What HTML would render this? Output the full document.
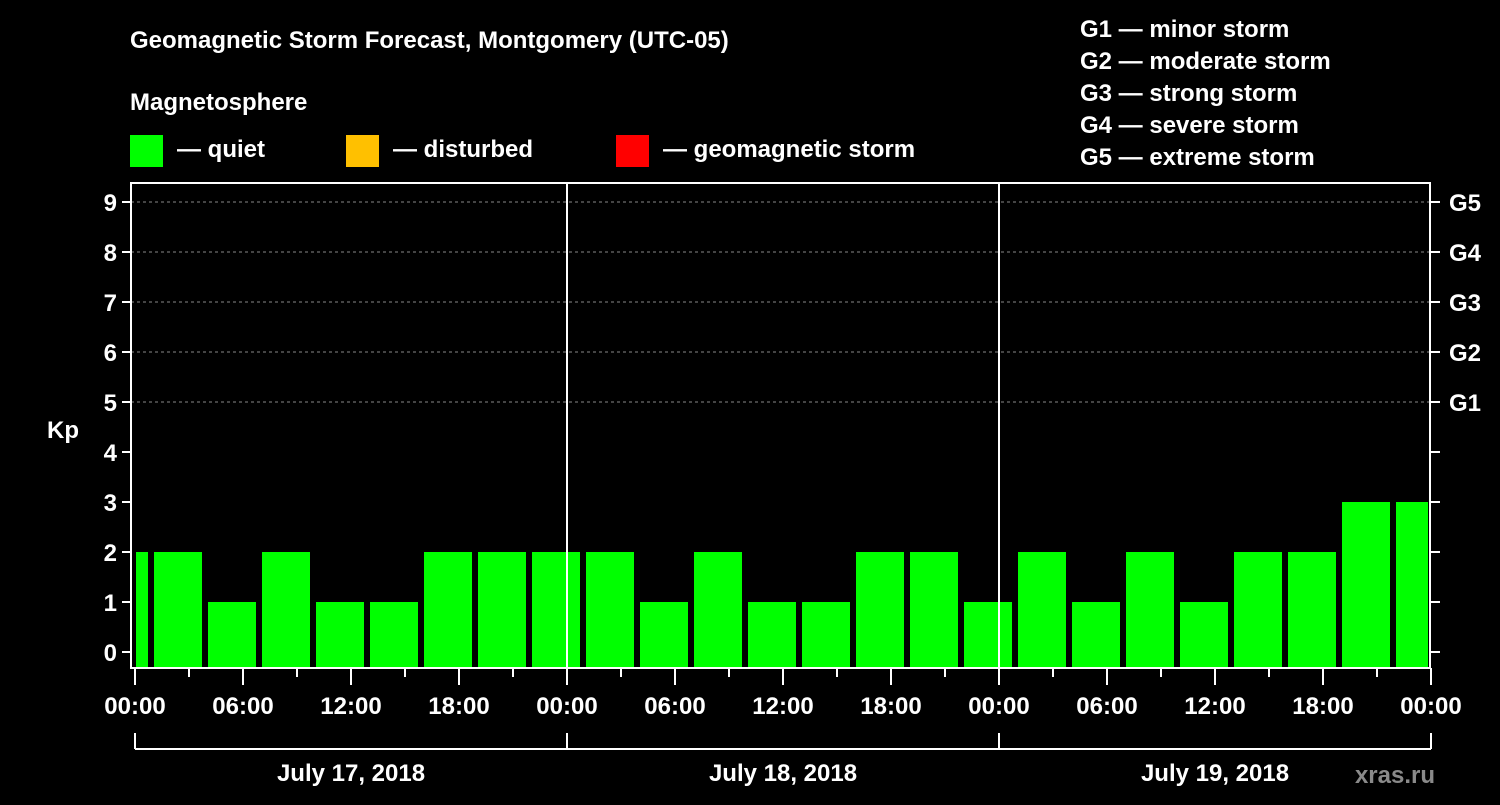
<!DOCTYPE html>
<html><head><meta charset="utf-8"><style>
body{margin:0;background:#000;width:1500px;height:800px;overflow:hidden}
svg text{font-family:"Liberation Sans",sans-serif;font-weight:bold;fill:#fff}
</style></head><body>
<svg id="c" width="1500" height="800" xmlns="http://www.w3.org/2000/svg">
<text x="130" y="48" font-size="24">Geomagnetic Storm Forecast, Montgomery (UTC-05)</text>
<text x="130" y="110" font-size="24">Magnetosphere</text>
<rect x="130" y="135" width="33" height="32" fill="#00ff00"/>
<text x="177" y="157" font-size="24">— quiet</text>
<rect x="346" y="135" width="33" height="32" fill="#ffc000"/>
<text x="393" y="157" font-size="24">— disturbed</text>
<rect x="616" y="135" width="33" height="32" fill="#ff0000"/>
<text x="663" y="157" font-size="24">— geomagnetic storm</text>
<g font-size="24">
<text x="1080" y="37">G1 — minor storm</text>
<text x="1080" y="69">G2 — moderate storm</text>
<text x="1080" y="101">G3 — strong storm</text>
<text x="1080" y="133">G4 — severe storm</text>
<text x="1080" y="165">G5 — extreme storm</text>
</g>
<text x="63" y="438" font-size="24" text-anchor="middle">Kp</text>
<text x="1435" y="783" font-size="24" text-anchor="end" fill="#888" style="fill:#8a8a8a">xras.ru</text>
<g id="plot"></g>
</svg>
<script>
const kpValues=[2,2,1,2,1,1,2,2,2,2,1,2,1,1,2,2,1,2,1,2,1,2,2,3,3];
const dayLabels=["July 17, 2018","July 18, 2018","July 19, 2018"];
const hourLabels=["00:00","06:00","12:00","18:00"];
const gLabels=["G1","G2","G3","G4","G5"];
const NS="http://www.w3.org/2000/svg";
const g=document.getElementById('plot');
const L=131,R=1430,T=183,B=668,x0=135,dayW=432;
const xH=h=>x0+h*dayW/24; // hours since July 17 00:00 local
const yK=k=>652-50*k;
function mk(tag,a,parent){const e=document.createElementNS(NS,tag);for(const k in a)e.setAttribute(k,a[k]);(parent||g).appendChild(e);return e;}
// grid
for(let k=5;k<=9;k++){const e=mk('line',{x1:L,x2:R,y1:yK(k),y2:yK(k),stroke:'#888','stroke-dasharray':'3,3','stroke-width':1});

}
// bars: bins start at 01:00 local minus 3h offset
kpValues.forEach((v,i)=>{
 let s=xH(-2+3*i)+1,e=xH(1+3*i)-5;
 s=Math.max(s,L+5);e=Math.min(e,R-2);
 const r=mk('rect',{x:s,y:yK(v),width:e-s,height:B-yK(v),fill:v>=5?'#ff0000':(v>=4?'#ffc000':'#00ff00')});
 
 
});
// day separators
for(let d=1;d<3;d++){const e=mk('line',{x1:xH(24*d),x2:xH(24*d),y1:T,y2:B,stroke:'#fff','stroke-width':2});

}
const fr=mk('rect',{x:L,y:T,width:R-L,height:B-T,fill:'none',stroke:'#fff','stroke-width':2});


// y ticks
for(let k=0;k<=9;k++){
 mk('line',{x1:122,x2:L,y1:yK(k),y2:yK(k),stroke:'#fff','stroke-width':2});
 mk('line',{x1:R,x2:1440,y1:yK(k),y2:yK(k),stroke:'#fff','stroke-width':2});
 const t=mk('text',{x:117,y:yK(k)+9,'font-size':24,'text-anchor':'end'});t.textContent=k;
 
 
 if(k>=5){const t2=mk('text',{x:1449,y:yK(k)+9,'font-size':24});t2.textContent=gLabels[k-5];
 
 }
}
// x ticks
for(let h=0;h<=72;h+=3){
 const major=h%6===0;
 mk('line',{x1:xH(h),x2:xH(h),y1:B,y2:major?685:677,stroke:'#fff','stroke-width':2});
 if(major){const t=mk('text',{x:xH(h),y:714,'font-size':24,'text-anchor':'middle'});t.textContent=hourLabels[(h%24)/6];
 
 }
}
// date bracket
mk('line',{x1:xH(0),x2:xH(72),y1:749,y2:749,stroke:'#fff','stroke-width':2});
for(let d=0;d<=3;d++)mk('line',{x1:xH(24*d),x2:xH(24*d),y1:733,y2:749,stroke:'#fff','stroke-width':2});
dayLabels.forEach((s,d)=>{const t=mk('text',{x:xH(24*d+12),y:781,'font-size':24,'text-anchor':'middle'});t.textContent=s;

});
</script>
</body></html>
